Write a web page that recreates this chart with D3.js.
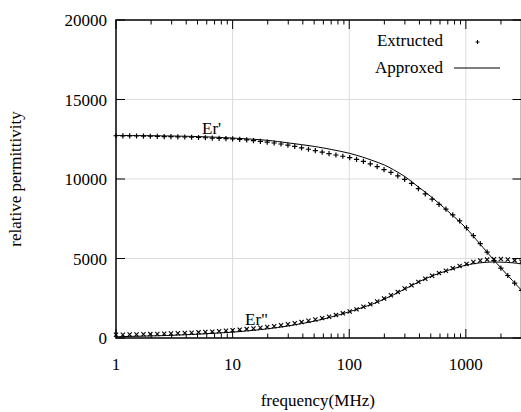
<!DOCTYPE html>
<html>
<head>
<meta charset="utf-8">
<script src="https://cdn.jsdelivr.net/npm/d3@7"></script>
<style>
  body { margin: 0; background: #fff; }
  text { font-family: "Liberation Serif", "DejaVu Serif", serif; font-size: 17px; fill: #000; }
</style>
</head>
<body>
<div id="chart"></div>
<script>
// measured points (frequency in MHz)
const freq = [1, 1.145, 1.31, 1.50, 1.72, 1.97, 2.26, 2.59, 2.96, 3.39,
  3.89, 4.45, 5.10, 5.84, 6.69, 7.66, 8.77, 10.0, 11.5, 13.2,
  15.1, 17.3, 19.8, 22.7, 26.0, 29.8, 34.1, 39.0, 44.7, 51.2,
  58.6, 67.1, 76.9, 88.1, 100.9, 115.5, 132.3, 151.5, 173.6, 198.8,
  227.7, 260.8, 298.7, 342.1, 391.8, 448.7, 513.9, 588.7, 674.3, 772.2,
  884.5, 1013, 1160, 1329, 1522, 1743, 1997, 2287, 2619, 3000];

const erReal = [12720, 12715, 12710, 12705, 12700, 12690, 12680, 12670, 12660, 12650,
  12640, 12625, 12610, 12595, 12575, 12555, 12540, 12520, 12490, 12455,
  12415, 12370, 12320, 12265, 12200, 12130, 12050, 11960, 11870, 11780,
  11690, 11600, 11510, 11430, 11350, 11240, 11110, 10950, 10780, 10590,
  10420, 10200, 9980, 9720, 9400, 9060, 8740, 8400, 8100, 7750,
  7370, 6920, 6440, 5930, 5400, 4870, 4400, 3930, 3450, 3000];

const erImag = [200, 205, 215, 225, 235, 245, 255, 270, 285, 300,
  315, 335, 355, 375, 400, 425, 455, 490, 525, 560,
  600, 645, 690, 740, 800, 860, 930, 1000, 1080, 1160,
  1250, 1340, 1440, 1550, 1670, 1800, 1960, 2120, 2300, 2490,
  2690, 2900, 3110, 3320, 3530, 3730, 3920, 4080, 4230, 4380,
  4530, 4660, 4780, 4870, 4930, 4960, 4970, 4940, 4880, 4800];

// fitted curves
const fitFreq = [1, 2, 3, 5, 7, 10, 15, 20, 30, 50, 70, 100, 130, 160, 200, 240, 300, 400, 500, 700, 1000, 1300, 1500, 1700, 2000, 2500, 3000];
const fitReal = [12740, 12725, 12705, 12670, 12630, 12575, 12500, 12430, 12270, 12050, 11860, 11620, 11380, 11150, 10880, 10580, 10150, 9450, 8900, 7980, 6930, 5970, 5450, 4980, 4400, 3630, 3000];
const fitImag = [80, 130, 170, 240, 300, 370, 480, 580, 760, 1060, 1320, 1650, 1920, 2150, 2450, 2720, 3080, 3550, 3870, 4250, 4580, 4720, 4760, 4780, 4770, 4730, 4660];

const xTicks = [1, 10, 100, 1000];
const yTicks = [0, 5000, 10000, 15000, 20000];

const width = 521, height = 412;
const margin = {left: 116, top: 20, right: 0, bottom: 74};
const svg = d3.select("#chart").append("svg").attr("width", width).attr("height", height);

const x = d3.scaleLog().domain([1, 3000]).range([margin.left, 521.5]);
const y = d3.scaleLinear().domain([0, 20000]).range([height - margin.bottom, margin.top]);
const x0 = x.range()[0], x1 = x.range()[1], y0 = y.range()[0], y1 = y.range()[1];

// grid
const grid = svg.append("g").attr("stroke", "#dcdcdc").attr("stroke-width", 1);
xTicks.slice(1).forEach(t => grid.append("line").attr("x1", x(t)).attr("x2", x(t)).attr("y1", y0).attr("y2", y1));
yTicks.slice(1, -1).forEach(t => grid.append("line").attr("x1", x0).attr("x2", x1).attr("y1", y(t)).attr("y2", y(t)));

// minor ticks on the log axis
const minor = [];
for (let d = 1; d <= 1000; d *= 10) for (let k = 2; k <= 9; k++) if (d * k <= 3000) minor.push(d * k);

const ax = svg.append("g").attr("stroke", "#000");
minor.forEach(t => {
  ax.append("line").attr("x1", x(t)).attr("x2", x(t)).attr("y1", y0).attr("y2", y0 - 4.5).attr("stroke-width", 1);
  ax.append("line").attr("x1", x(t)).attr("x2", x(t)).attr("y1", y1).attr("y2", y1 + 4.5).attr("stroke-width", 1);
});
xTicks.forEach(t => {
  ax.append("line").attr("x1", x(t)).attr("x2", x(t)).attr("y1", y0).attr("y2", y0 - 9).attr("stroke-width", 1);
  ax.append("line").attr("x1", x(t)).attr("x2", x(t)).attr("y1", y1).attr("y2", y1 + 9).attr("stroke-width", 1);
});
yTicks.forEach(t => {
  ax.append("line").attr("x1", x0).attr("x2", x0 + 9).attr("y1", y(t)).attr("y2", y(t)).attr("stroke-width", 1);
  ax.append("line").attr("x1", x1 - 9).attr("x2", x1).attr("y1", y(t)).attr("y2", y(t)).attr("stroke-width", 1);
});
ax.append("rect").attr("x", x0).attr("y", y1).attr("width", x1 - x0).attr("height", y0 - y1)
  .attr("fill", "none").attr("stroke-width", 1.5);

// tick labels
svg.selectAll(".xl").data(xTicks).join("text").attr("class", "xl")
  .attr("x", d => x(d)).attr("y", y0 + 32).attr("text-anchor", "middle").text(d => d);
svg.selectAll(".yl").data(yTicks).join("text").attr("class", "yl")
  .attr("x", x0 - 9).attr("y", d => y(d) + 6).attr("text-anchor", "end").text(d => d);

// axis titles
svg.append("text").attr("x", (x0 + x1) / 2 - 1).attr("y", 406).attr("text-anchor", "middle").text("frequency(MHz)");
svg.append("text").attr("transform", `translate(21, ${(y0 + y1) / 2}) rotate(-90)`).attr("text-anchor", "middle").text("relative permittivity");

// fitted lines
const line = vals => d3.line().x((d, i) => x(fitFreq[i])).y(d => y(d)).curve(d3.curveCatmullRom.alpha(0.5))(vals);
[fitReal, fitImag].forEach(v => svg.append("path").attr("d", line(v)).attr("fill", "none").attr("stroke", "#000").attr("stroke-width", 1));

// markers
const s = 2.6;
svg.append("g").selectAll("path").data(erReal).join("path")
  .attr("d", (d, i) => { const px = x(freq[i]), py = y(d); return `M${px - s},${py}H${px + s}M${px},${py - s}V${py + s}`; })
  .attr("stroke", "#000").attr("stroke-width", 1.2);
const c = 2.1;
svg.append("g").selectAll("path").data(erImag).join("path")
  .attr("d", (d, i) => { const px = x(freq[i]), py = y(d); return `M${px - c},${py - c}L${px + c},${py + c}M${px - c},${py + c}L${px + c},${py - c}`; })
  .attr("stroke", "#000").attr("stroke-width", 1.1);

// curve labels
svg.append("text").attr("x", 202).attr("y", 134).text("Er'");
svg.append("text").attr("x", 245).attr("y", 325).text("Er\"");

// legend
svg.append("text").attr("x", 443).attr("y", 46).attr("text-anchor", "end").text("Extructed");
svg.append("path").attr("d", "M475.5,42H479.5M477.5,40V44").attr("stroke", "#000").attr("stroke-width", 1);
svg.append("text").attr("x", 443).attr("y", 73).attr("text-anchor", "end").text("Approxed");
svg.append("line").attr("x1", 454).attr("x2", 500).attr("y1", 68).attr("y2", 68).attr("stroke", "#000").attr("stroke-width", 1);
</script>
</body>
</html>
